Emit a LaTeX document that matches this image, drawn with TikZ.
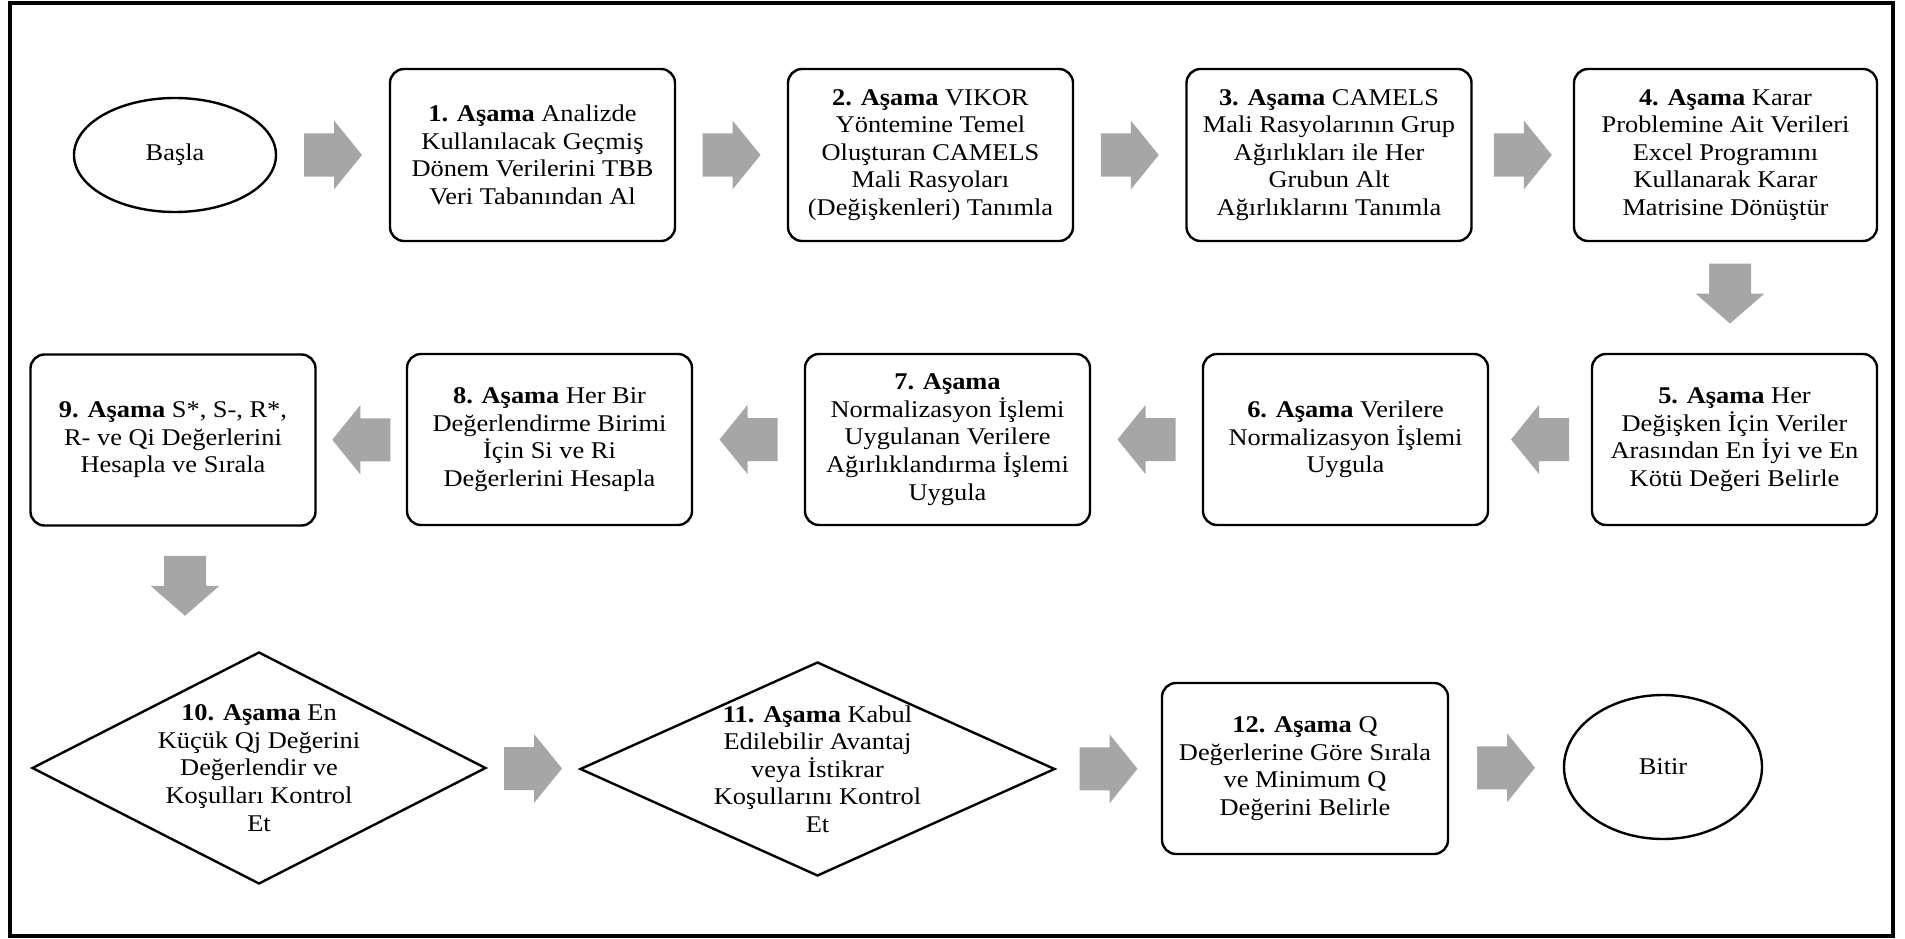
\documentclass[tikz,border=0pt]{standalone}
\usepackage{fontspec}
\setmainfont{Liberation Serif}[FakeStretch=1.1]
\usetikzlibrary{shapes.geometric,calc}
\definecolor{arrgray}{RGB}{166,166,166}
\begin{document}
\begin{tikzpicture}[x=1pt,y=-1pt,
  basefont/.style={font=\fontsize{24}{27.6}\selectfont},
  stepbox/.style={basefont, draw=black, line width=2.4pt, rounded corners=14pt,
    minimum width=285pt, minimum height=172pt, align=center, inner sep=2pt, fill=white},
  startend/.style={basefont, draw=black, line width=2.4pt, ellipse, inner sep=0pt, fill=white},
  dia/.style={draw=black, line width=2.4pt, diamond, inner sep=0pt, fill=white},
  diatext/.style={basefont, align=center, inner sep=0pt},
  rarr/.pic={\fill[arrgray] (-29,-21.5) -- (1,-21.5) -- (1,-34.5) -- (29,0) -- (1,34.5) -- (1,21.5) -- (-29,21.5) -- cycle;},
  larr/.pic={\fill[arrgray] (29,-21.5) -- (-1,-21.5) -- (-1,-34.5) -- (-29,0) -- (-1,34.5) -- (-1,21.5) -- (29,21.5) -- cycle;},
  darr/.pic={\fill[arrgray] (-21,-30) -- (21,-30) -- (21,0) -- (34.5,0) -- (0,30) -- (-34.5,0) -- (-21,0) -- cycle;}
]
\useasboundingbox (0,0) rectangle (1905,939);
\fill[white] (0,0) rectangle (1905,939);
\draw[line width=3.5pt] (10,3) rectangle (1893,936);

% Row 1
\node[startend, minimum width=202pt, minimum height=114pt] (start) at (175,155) {Başla};
\node[stepbox] (b1) at (532.5,155) {\textbf{1. Aşama} Analizde\\Kullanılacak Geçmiş\\Dönem Verilerini TBB\\Veri Tabanından Al};
\node[stepbox] (b2) at (930.5,155) {\textbf{2. Aşama} VIKOR\\Yöntemine Temel\\Oluşturan CAMELS\\Mali Rasyoları\\(Değişkenleri) Tanımla};
\node[stepbox] (b3) at (1329,155) {\textbf{3. Aşama} CAMELS\\Mali Rasyolarının Grup\\Ağırlıkları ile Her\\Grubun Alt\\Ağırlıklarını Tanımla};
\node[stepbox, minimum width=303pt] (b4) at (1725.5,155) {\textbf{4. Aşama} Karar\\Problemine Ait Verileri\\Excel Programını\\Kullanarak Karar\\Matrisine Dönüştür};

% Row 2
\node[stepbox, minimum height=171pt] (b5) at (1734.5,439.5) {\textbf{5. Aşama} Her\\Değişken İçin Veriler\\Arasından En İyi ve En\\Kötü Değeri Belirle};
\node[stepbox, minimum height=171pt] (b6) at (1345.5,439.5) {\textbf{6. Aşama} Verilere\\Normalizasyon İşlemi\\Uygula};
\node[stepbox, minimum height=171pt] (b7) at (947.5,439.5) {\textbf{7. Aşama}\\Normalizasyon İşlemi\\Uygulanan Verilere\\Ağırlıklandırma İşlemi\\Uygula};
\node[stepbox, minimum height=171pt] (b8) at (549.5,439.5) {\textbf{8. Aşama} Her Bir\\Değerlendirme Birimi\\İçin Si ve Ri\\Değerlerini Hesapla};
\node[stepbox, minimum height=171pt] (b9) at (173,440) {\textbf{9. Aşama} S*, S-, R*,\\R- ve Qi Değerlerini\\Hesapla ve Sırala};

% Row 3
\node[dia, minimum width=454pt, minimum height=232pt] (s10) at (259,768) {};
\node[diatext] (t10) at (s10.center) {\textbf{10. Aşama} En\\Küçük Qj Değerini\\Değerlendir ve\\Koşulları Kontrol\\Et};
\node[dia, minimum width=475pt, minimum height=214pt] (s11) at (817.5,769) {};
\node[diatext] (t11) at (s11.center) {\textbf{11. Aşama} Kabul\\Edilebilir Avantaj\\veya İstikrar\\Koşullarını Kontrol\\Et};
\node[stepbox, minimum width=286pt, minimum height=171pt] (b12) at (1305,768.5) {\textbf{12. Aşama} Q\\Değerlerine Göre Sırala\\ve Minimum Q\\Değerini Belirle};
\node[startend, minimum width=198pt, minimum height=144pt] (end) at (1663,767) {Bitir};

% Block arrows between nodes
\pic at ($(start.east)!0.5!(b1.west)$) {rarr};
\pic at ($(b1.east)!0.5!(b2.west)$) {rarr};
\pic at ($(b2.east)!0.5!(b3.west)$) {rarr};
\pic at ($(b3.east)!0.5!(b4.west)$) {rarr};
\pic at ($(b4.south)!0.5!(b5.north)+(0,-4)$) {darr};
\pic at ($(b5.west)!0.5!(b6.east)$) {larr};
\pic at ($(b6.west)!0.5!(b7.east)$) {larr};
\pic at ($(b7.west)!0.5!(b8.east)$) {larr};
\pic at ($(b8.west)!0.5!(b9.east)$) {larr};
\pic at ($(b9.south)!0.5!(b9.south|-s10.north)+(12,-3)$) {darr};
\pic at ($(s10.east)!0.5!(s11.west)$) {rarr};
\pic at ($(s11.east)!0.5!(b12.west)$) {rarr};
\pic at ($(b12.east)!0.5!(end.west)$) {rarr};
\end{tikzpicture}
\end{document}
